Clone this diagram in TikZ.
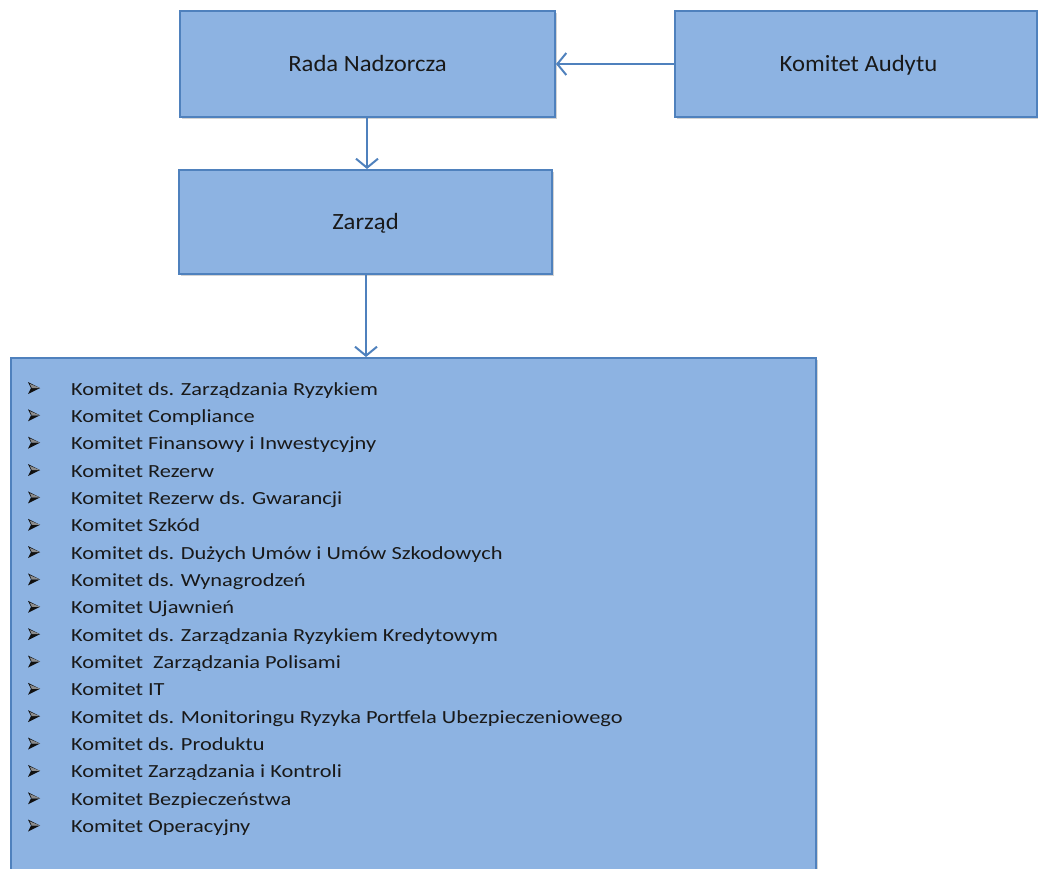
\documentclass[tikz,border=0pt]{standalone}
\usepackage{fontspec}
\setmainfont{Carlito}
\newfontfamily\titlefont[FakeStretch=1.06]{Carlito}
\newfontfamily\listfont[FakeStretch=1.21]{Carlito}
\usetikzlibrary{arrows.meta,shadows}
\definecolor{boxfill}{HTML}{8DB3E2}
\definecolor{boxline}{HTML}{4F81BD}
\definecolor{bulletdark}{HTML}{111111}
\tikzset{
  orgbox/.style={draw=boxline, line width=2pt, fill=boxfill, inner sep=0pt,
    text height=15pt, text depth=0pt, text=black!90,
    drop shadow={opacity=0.35, shadow xshift=1.5pt, shadow yshift=-1.5pt},
    font=\titlefont\fontsize{23.3}{28}\selectfont},
  link/.style={draw=boxline, line width=2pt, -{Straight Barb[length=9pt, width=22pt, line width=2pt]}},
  item/.style={anchor=base west, inner sep=0pt, text=black!90, font=\listfont\fontsize{18.5}{22}\selectfont},
  pics/arrowbullet/.style={code={
    \fill[bulletdark] (6,0) -- (-6,6) -- (-3,0) -- cycle;
    \fill[bulletdark] (6,0) -- (-6,-6) -- (-3,0) -- cycle;
    \fill[black!45] (6,0) -- (-4.2,-4.2) -- (-2.2,0) -- cycle;
  }}
}
\begin{document}
\begin{tikzpicture}[x=1pt, y=-1pt]
\useasboundingbox (0,0) rectangle (1038,868);
\node[orgbox, minimum width=375pt, minimum height=106pt] (rada) at (367.5,64) {Rada Nadzorcza};
\node[orgbox, minimum width=362pt, minimum height=106pt] (audyt) at (856,64) {\hspace*{5pt}Komitet Audytu};
\node[orgbox, minimum width=373pt, minimum height=104pt] (zarzad) at (365.5,222) {Zarząd};
\node[orgbox, minimum width=805pt, minimum height=520pt, anchor=north west] (list) at (10,357) {};
\coordinate (r1) at (367,0);
\coordinate (z1) at (366,0);
\draw[link] (audyt.west) -- (rada.east);
\draw[link] (r1 |- rada.south) -- (r1 |- zarzad.north);
\draw[link] (z1 |- zarzad.south) -- (z1 |- list.north);
\foreach [count=\i] \t in {
  Komitet ds. Zarządzania Ryzykiem,
  Komitet Compliance,
  Komitet Finansowy i Inwestycyjny,
  Komitet Rezerw,
  Komitet Rezerw ds. Gwarancji,
  Komitet Szkód,
  Komitet ds. Dużych Umów i Umów Szkodowych,
  Komitet ds. Wynagrodzeń,
  Komitet Ujawnień,
  Komitet ds. Zarządzania Ryzykiem\ Kredytowym,
  Komitet\ \ Zarządzania Polisami,
  Komitet IT,
  Komitet ds. Monitoringu Ryzyka\ Portfela Ubezpieczeniowego,
  Komitet ds. Produktu,
  Komitet Zarządzania i Kontroli,
  Komitet Bezpieczeństwa,
  Komitet Operacyjny}
{
  \pic at (34, 395 + 27.35*\i - 27.35 - 7) {arrowbullet};
  \node[item] (t\i) at (71, 395 + 27.35*\i - 27.35) {\t};
}
\end{tikzpicture}
\end{document}
